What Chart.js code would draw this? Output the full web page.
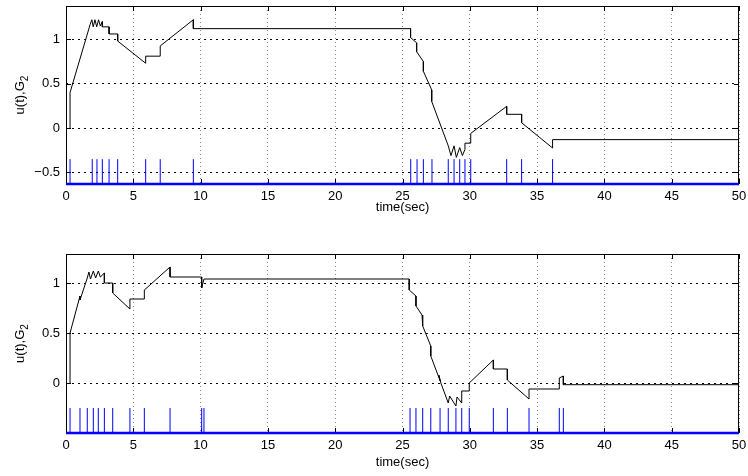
<!DOCTYPE html>
<html>
<head>
<meta charset="utf-8">
<script src="https://cdn.jsdelivr.net/npm/chart.js@4"></script>
<style>
  body { margin: 0; background: #fff; }
  .wrap { position: absolute; left: 0; width: 748px; }
</style>
</head>
<body>
<div class="wrap" style="top:0;height:215px"><canvas id="topChart"></canvas></div>
<div class="wrap" style="top:238px;height:232px"><canvas id="botChart"></canvas></div>
<script>
// time axis
const xTicks = [0, 5, 10, 15, 20, 25, 30, 35, 40, 45, 50];

// upper plot: control signal u(t) and event instants
const topYTicks = [-0.5, 0, 0.5, 1];
const topT = [0.3, 0.3, 1.8, 1.92, 2.02, 2.15, 2.28, 2.42, 2.55, 2.7, 2.7, 3.2, 3.2, 3.84, 3.84, 5.92, 5.92, 7.0, 7.0, 9.46, 9.46,
  25.6, 25.6, 26.05, 26.05, 26.55, 26.55, 27.17, 27.17, 28.4, 28.6, 28.83, 29.0, 29.25, 29.45, 29.64, 29.64, 30.07, 30.07,
  32.74, 32.74, 33.85, 33.85, 36.15, 36.15, 50];
const topU = [0, 0.4, 1.17, 1.22, 1.14, 1.22, 1.14, 1.22, 1.15, 1.2, 1.14, 1.14, 1.06, 1.06, 0.98, 0.73, 0.81, 0.81, 0.925, 1.22, 1.12,
  1.12, 1.02, 0.96, 0.86, 0.75, 0.64, 0.43, 0.3, -0.2, -0.31, -0.2, -0.33, -0.22, -0.31, -0.24, -0.17, -0.17, -0.06,
  0.245, 0.155, 0.155, 0.06, -0.225, -0.13, -0.13];
const topEvents = [0.3, 1.95, 2.3, 2.7, 3.2, 3.84, 5.92, 7.0, 9.46,
  25.61, 26.08, 26.55, 27.19, 28.4, 28.83, 29.25, 29.64, 30.07, 32.74, 33.85, 36.15];

// lower plot
const botYTicks = [0, 0.5, 1];
const botT = [0.3, 0.3, 1.04, 1.04, 1.58, 1.7, 1.82, 2.03, 2.2, 2.4, 2.55, 2.85, 2.85, 3.47, 3.47, 4.75, 4.75, 5.82, 5.82, 7.73, 7.73,
  10.08, 10.08, 10.25, 25.5, 25.5, 26.0, 26.0, 26.45, 26.5, 27.1, 27.1, 27.8, 27.7, 27.85, 28.4, 28.5, 28.97, 29.05, 29.4, 29.4,
  29.96, 29.96, 31.75, 31.75, 32.79, 32.79, 34.4, 34.4, 36.65, 36.65, 36.95, 36.95, 50];
const botU = [0, 0.5, 0.87, 0.83, 1.05, 1.11, 1.04, 1.12, 1.05, 1.12, 1.06, 1.1, 1.0, 1.0, 0.9, 0.74, 0.84, 0.84, 0.93, 1.16, 1.06,
  1.06, 0.95, 1.04, 1.04, 0.93, 0.87, 0.77, 0.68, 0.57, 0.37, 0.27, 0.02, 0.08, 0.0, -0.2, -0.13, -0.23, -0.14, -0.2, -0.08,
  -0.08, 0.0, 0.23, 0.14, 0.14, 0.03, -0.16, -0.06, -0.06, 0.05, 0.07, -0.017, -0.017];
const botEvents = [0.3, 1.04, 1.58, 2.03, 2.4, 2.85, 3.47, 4.75, 5.82, 7.73, 10.08, 10.25,
  25.56, 26.0, 26.5, 27.1, 27.79, 28.4, 28.97, 29.4, 29.96, 31.75, 32.79, 34.4, 36.65, 36.95];

const FONT = 'Liberation Sans, Arial, Helvetica, sans-serif';

const framePlugin = {
  id: 'frame',
  beforeDatasetsDraw(chart) {
    const { ctx, chartArea: a } = chart;
    ctx.save();
    ctx.strokeStyle = '#000';
    ctx.lineWidth = 1;
    ctx.strokeRect(Math.round(a.left) + 0.5, Math.round(a.top) + 0.5,
      Math.round(a.right - a.left) - 1, Math.round(a.bottom - a.top) - 1);
    // inward tick marks
    ctx.beginPath();
    chart.scales.x.ticks.forEach(t => {
      const px = Math.round(chart.scales.x.getPixelForValue(t.value)) + 0.5;
      ctx.moveTo(px, a.bottom); ctx.lineTo(px, a.bottom - 5);
      ctx.moveTo(px, a.top); ctx.lineTo(px, a.top + 5);
    });
    chart.scales.y.ticks.forEach(t => {
      const py = Math.round(chart.scales.y.getPixelForValue(t.value)) + 0.5;
      ctx.moveTo(a.left, py); ctx.lineTo(a.left + 5, py);
      ctx.moveTo(a.right, py); ctx.lineTo(a.right - 5, py);
    });
    ctx.stroke();
    // y label with subscript
    const cy = (a.top + a.bottom) / 2;
    ctx.translate(21, cy);
    ctx.rotate(-Math.PI / 2);
    ctx.fillStyle = '#000';
    ctx.textBaseline = 'alphabetic';
    ctx.font = '13px ' + FONT;
    const main = 'u(t),G';
    const w = ctx.measureText(main).width;
    ctx.font = '10px ' + FONT;
    const ws = ctx.measureText('2').width;
    const x0 = -(w + ws) / 2;
    ctx.font = '13px ' + FONT;
    ctx.fillText(main, x0, 3);
    ctx.font = '10px ' + FONT;
    ctx.fillText('2', x0 + w, 7);
    ctx.restore();
  }
};

function makeChart(id, t, u, events, yTicks, yMin, yMax, stemTop, padTop, xAxisH) {
  const curve = t.map((v, i) => ({ x: v, y: u[i] }));
  const stems = [];
  events.forEach(e => {
    stems.push({ x: e, y: yMin }, { x: e, y: stemTop }, { x: e, y: null });
  });
  return new Chart(document.getElementById(id), {
    type: 'line',
    data: {
      datasets: [
        { data: stems, borderColor: '#0000ff', borderWidth: 1, pointRadius: 0, spanGaps: false, tension: 0 },
        { data: [{ x: 0, y: yMin }, { x: 50, y: yMin }], borderColor: '#0000ff', borderWidth: 2.5, pointRadius: 0, clip: 3 },
        { data: curve, borderColor: '#000', borderWidth: 1, pointRadius: 0, tension: 0 }
      ]
    },
    options: {
      responsive: true,
      maintainAspectRatio: false,
      animation: false,
      layout: { padding: { left: 0, right: 9, top: padTop, bottom: 0 } },
      plugins: { legend: { display: false }, tooltip: { enabled: false } },
      scales: {
        x: {
          type: 'linear', min: 0, max: 50,
          afterBuildTicks: s => { s.ticks = xTicks.map(v => ({ value: v })); },
          afterFit: s => { s.height = xAxisH; s.paddingLeft = 0; s.paddingRight = 0; },
          grid: { color: '#888', drawTicks: false, lineWidth: 1 },
          border: { display: false, dash: [1, 3] },
          ticks: { color: '#000', padding: 5, maxRotation: 0, font: { family: FONT, size: 13 } },
          title: { display: true, text: 'time(sec)', color: '#000', padding: { top: 0, bottom: 0 }, font: { family: FONT, size: 13 } }
        },
        y: {
          type: 'linear', min: yMin, max: yMax,
          afterBuildTicks: s => { s.ticks = yTicks.map(v => ({ value: v })); },
          afterFit: s => { s.width = 66; s.paddingTop = 0; s.paddingBottom = 0; },
          grid: { color: '#000', drawTicks: false, lineWidth: 1 },
          border: { display: false, dash: [2, 4] },
          ticks: { color: '#000', padding: 6, font: { family: FONT, size: 13 },
            callback: v => (v < 0 ? '\u2212' + Math.abs(v) : String(v)) }
        }
      }
    },
    plugins: [framePlugin]
  });
}

makeChart('topChart', topT, topU, topEvents, topYTicks, -0.63, 1.375, -0.35, 6, 31);
makeChart('botChart', botT, botU, botEvents, botYTicks, -0.5, 1.29, -0.25, 16, 37);
</script>
</body>
</html>
